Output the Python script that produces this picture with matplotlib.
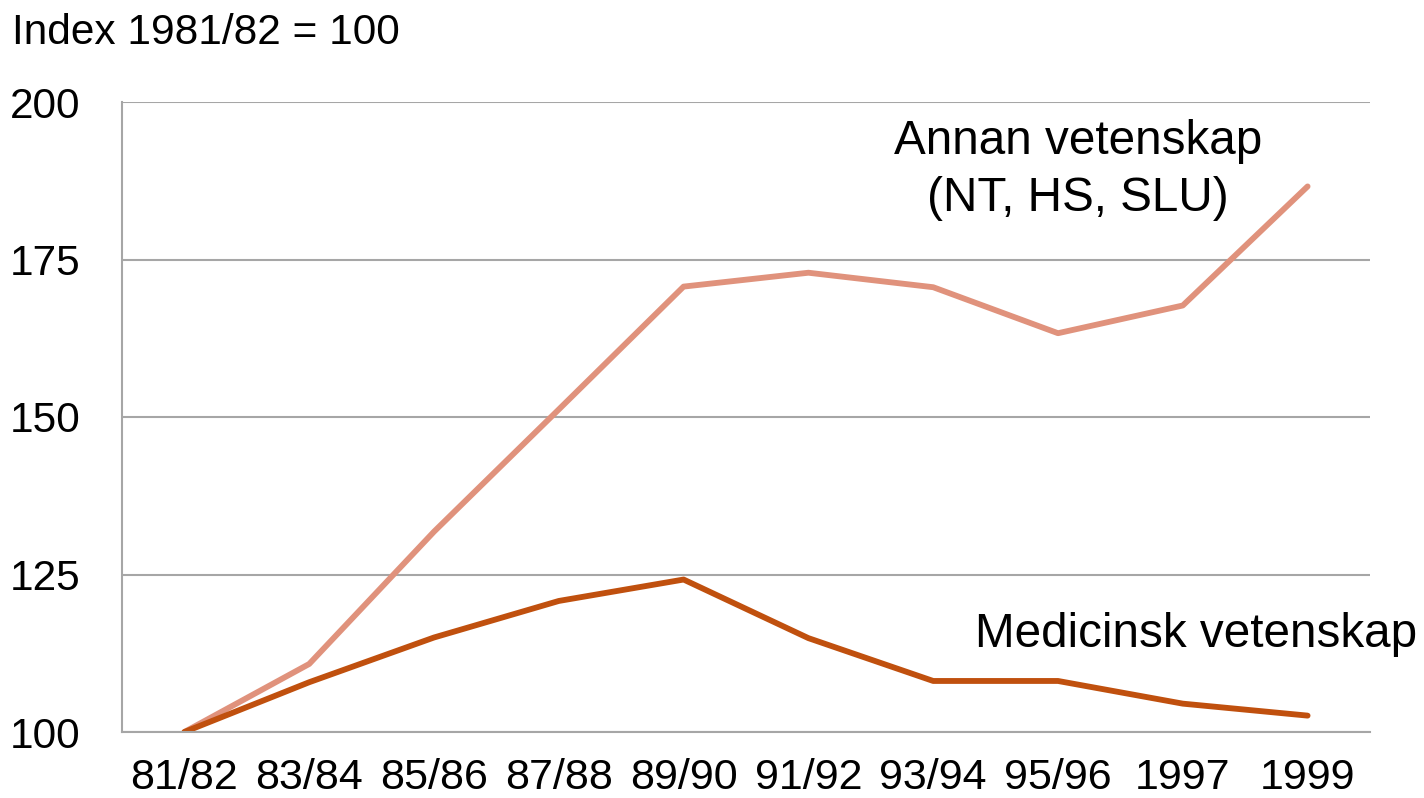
import matplotlib.pyplot as plt

plt.rcParams["font.family"] = ["Liberation Sans", "DejaVu Sans"]

# Data
periods = ["81/82", "83/84", "85/86", "87/88", "89/90",
           "91/92", "93/94", "95/96", "1997", "1999"]
annan = [100, 110.8, 131.8, 151.2, 170.7, 172.9, 170.6, 163.3, 167.7, 186.6]
medicin = [100, 107.9, 115.0, 120.8, 124.2, 114.9, 108.1, 108.1, 104.5, 102.6]

ANNAN_COLOR = "#E0927C"
MED_COLOR = "#C0500E"
GRID_COLOR = "#A6A6A6"
FS = 30.5
FS_LABEL = 34.3

fig = plt.figure(figsize=(14.24, 7.98), dpi=100)
ax = fig.add_axes([122 / 1424, 1 - 732 / 798, 1248 / 1424, 630 / 798])

x = list(range(len(periods)))
ax.plot(x, annan, color=ANNAN_COLOR, lw=4.2, solid_capstyle="round")
ax.plot(x, medicin, color=MED_COLOR, lw=4.2, solid_capstyle="round")

ax.set_xlim(-0.5, len(periods) - 0.5)
ax.set_ylim(100, 200)
ax.set_yticks([100, 125, 150, 175, 200])
ax.set_xticks(x)
ax.set_xticklabels(periods)
ax.tick_params(axis="both", length=0, labelsize=FS)
ax.tick_params(axis="x", labelsize=31, pad=19)
ax.tick_params(axis="y", pad=30)

ax.yaxis.grid(True, color=GRID_COLOR, lw=1.5)
ax.set_axisbelow(True)
for side in ["top", "right"]:
    ax.spines[side].set_visible(False)
for side in ["left", "bottom"]:
    ax.spines[side].set_color(GRID_COLOR)
    ax.spines[side].set_linewidth(1.5)

fig.text(12 / 1424, 1 - 33 / 798, "Index 1981/82 = 100", fontsize=FS,
         va="center", ha="left")
ax.text(7.16, 191.7, "Annan vetenskap", fontsize=FS_LABEL,
        ha="center", va="baseline")
ax.text(7.16, 182.7, "(NT, HS, SLU)", fontsize=FS_LABEL,
        ha="center", va="baseline")
ax.text(6.335, 113.5, "Medicinsk vetenskap", fontsize=FS_LABEL,
        ha="left", va="baseline")

fig.savefig("out.png", dpi=100)
